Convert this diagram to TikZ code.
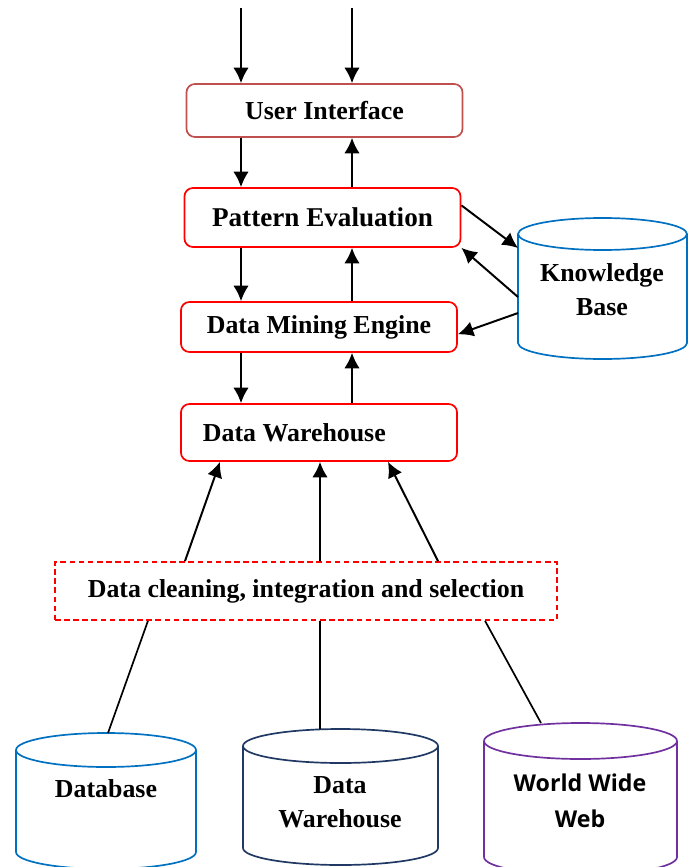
\documentclass[tikz,border=0pt]{standalone}
\usepackage{fontspec}
\setmainfont{Liberation Serif}
\newfontfamily\websans{Open Sans}
\usetikzlibrary{arrows.meta}
\definecolor{uired}{RGB}{192,80,77}
\definecolor{kbblue}{RGB}{0,112,192}
\definecolor{dwnavy}{RGB}{31,56,100}
\definecolor{webpurple}{RGB}{112,48,160}
\tikzset{>={Latex[length=11pt,width=11pt]},
  stage/.style={draw=red,line width=1.2pt,rounded corners=6pt,minimum width=6.9cm,
    font=\bfseries\fontsize{18.4}{22}\selectfont},
  storetext/.style={align=center,font=\bfseries\fontsize{18.4}{24}\selectfont},
  flow/.style={->,line width=1.4pt},
  feed/.style={line width=1.2pt},
  pics/store/.style n args={4}{code={
    \draw[line width=1.2pt,#1] (0,0) ellipse [x radius=#2,y radius=#3];
    \draw[line width=1.2pt,#1] (-#2,0) -- (-#2,#4)
      arc [start angle=180,end angle=0,x radius=#2,y radius=#3] -- (#2,0);
    \coordinate (-top) at (0,-#3);
    \coordinate (-west) at (-#2,0);}}}
\begin{document}
\begin{tikzpicture}[x=0.025cm,y=-0.025cm]
  \useasboundingbox (0,0) rectangle (693,867);
  \coordinate (in1) at (241,8);
  \coordinate (in2) at (352,8);
  \node[stage,draw=uired,minimum height=1.325cm] (ui) at (324.5,110.5) {User Interface};
  \node[stage,minimum height=1.475cm,font=\bfseries\fontsize{19.3}{22}\selectfont] (pe) at (322.5,217.5) {Pattern Evaluation};
  \node[stage,minimum height=1.25cm] (dme) at (319,327) {Data Mining Engine};
  \node[stage,minimum height=1.425cm,text width=5.8cm,inner xsep=0.55cm,align=flush left] (dw) at (319,432.5) {Data Warehouse};
  \node[draw=red,line width=1.2pt,dash pattern=on 4pt off 2.5pt,minimum width=12.55cm,minimum height=1.45cm,
    font=\bfseries\fontsize{18.4}{22}\selectfont] (clean) at (306,591) {Data cleaning, integration and selection};
  \pic (kb) at (602.5,234) {store={kbblue}{84.5}{16}{109}};
  \node[storetext] (kbname) at (602,290) {Knowledge\\Base};
  \pic (db) at (106,750) {store={kbblue}{90}{17}{102}};
  \node[storetext] (dbname) at (106,789) {Database};
  \pic (dwc) at (340.5,746) {store={dwnavy}{97.5}{17}{102}};
  \node[storetext] (dwcname) at (340,802) {Data\\Warehouse};
  \pic (web) at (580.5,741) {store={webpurple}{96.5}{18}{116}};
  \node[storetext,font=\websans\bfseries\fontsize{16.5}{25.5}\selectfont] (webname) at (580,801) {World Wide\\Web};
  \draw[flow] (in1) -- (in1 |- ui.north);
  \draw[flow] (in2) -- (in2 |- ui.north);
  \foreach \a/\b in {ui/pe,pe/dme,dme/dw}{
    \draw[flow] (\a.south -| in1) -- (\b.north -| in1);
    \draw[flow] (\b.north -| in2) -- (\a.south -| in2);}
  \draw[flow] (pe.5) -- ([yshift=-0.35cm]kb-west);
  \draw[flow] ([yshift=-1.575cm]kb-west) -- (pe.south east);
  \draw[flow] ([yshift=-1.975cm]kb-west) -- (dme.-3);
  \draw[flow] ([xshift=-3.025cm]clean.north) -- ([xshift=-2.475cm]dw.south);
  \draw[flow] ([xshift=0.35cm]clean.north) -- ([xshift=0.025cm]dw.south);
  \draw[flow] ([xshift=3.3cm]clean.north) -- ([xshift=1.725cm]dw.south);
  \draw[feed] ([xshift=0.05cm]db-top) -- ([xshift=-3.95cm]clean.south);
  \draw[feed] ([xshift=-0.5125cm]dwc-top) -- ([xshift=0.35cm]clean.south);
  \draw[feed] ([xshift=-0.9875cm]web-top) -- ([xshift=4.475cm]clean.south);
\end{tikzpicture}
\end{document}
